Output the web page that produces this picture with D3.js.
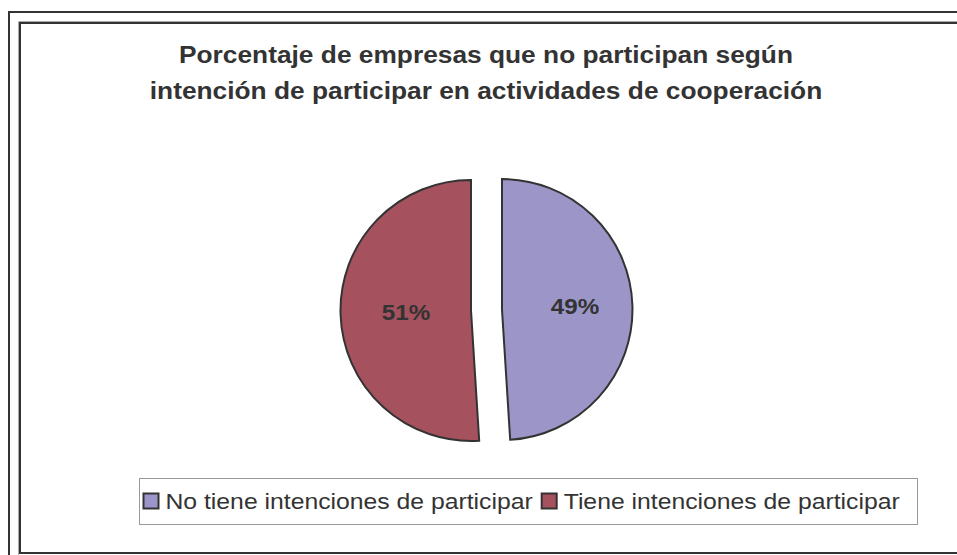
<!DOCTYPE html>
<html>
<head>
<meta charset="utf-8">
<script src="https://cdn.jsdelivr.net/npm/d3@7"></script>
<style>
  html, body { margin: 0; padding: 0; background: #fff; }
  svg { display: block; }
  text { font-family: "Liberation Sans", Arial, sans-serif; }
</style>
</head>
<body>
<svg id="chart" width="957" height="555"></svg>
<script>
const titleLines = ["Porcentaje de empresas que no participan según",
                    "intención de participar en actividades de cooperación"];
const categories = ["No tiene intenciones de participar", "Tiene intenciones de participar"];
const values = [49, 51];
const colors = ["#9c96c8", "#a5515e"];

const W = 957, H = 555;
const svg = d3.select("#chart");

// frames
svg.append("rect").attr("x", 9).attr("y", 12).attr("width", 1100).attr("height", 1100)
  .attr("fill", "none").attr("stroke", "#333").attr("stroke-width", 2);
svg.append("path").attr("d", "M18.5,560 V21.5 H960").attr("fill", "none")
  .attr("stroke", "#aaa").attr("stroke-width", 1);
svg.append("rect").attr("x", 20).attr("y", 23).attr("width", 1100).attr("height", 530)
  .attr("fill", "#fff").attr("stroke", "#333").attr("stroke-width", 2);

// title
const titleY = [63, 99];
const titleStretch = 1.12;
titleLines.forEach((t, i) => {
  svg.append("text")
    .attr("transform", `translate(486,${titleY[i]}) scale(${titleStretch},1)`)
    .attr("text-anchor", "middle")
    .attr("font-size", 23.5).attr("font-weight", "bold").attr("fill", "#333")
    .text(t);
});

// pie
const cx = 486.5, cy = 310, r = 130.5, explode = 15.5;
const pie = d3.pie().sort(null).value(d => d).startAngle(0).endAngle(2 * Math.PI);
const arcs = pie(values);
const arc = d3.arc().innerRadius(0).outerRadius(r);
const labelArc = d3.arc().innerRadius(69).outerRadius(69);

const g = svg.append("g").attr("transform", `translate(${cx},${cy})`);
const slice = g.selectAll("g.slice").data(arcs).join("g").attr("class", "slice")
  .attr("transform", d => {
    const a = (d.startAngle + d.endAngle) / 2;
    return `translate(${explode * Math.sin(a)},${-explode * Math.cos(a)})`;
  });
slice.append("path").attr("d", arc)
  .attr("fill", (d, i) => colors[i]).attr("stroke", "#333").attr("stroke-width", 2)
  .attr("stroke-linejoin", "miter");
slice.append("text")
  .attr("transform", d => {
    const [x, y] = labelArc.centroid(d);
    return `translate(${x + 4},${y + 7}) scale(1.1,1)`;
  })
  .attr("text-anchor", "middle").attr("font-size", 22).attr("font-weight", "bold")
  .attr("fill", "#333")
  .text(d => Math.round(d.value) + "%");

// legend
const lg = svg.append("g");
lg.append("rect").attr("x", 139.5).attr("y", 478.5).attr("width", 778).attr("height", 46)
  .attr("fill", "#fff").attr("stroke", "#999").attr("stroke-width", 1);
const legStretch = 1.1;
let lx = 143.5;
categories.forEach((c, i) => {
  lg.append("rect").attr("x", lx).attr("y", 493.5).attr("width", 15).attr("height", 15)
    .attr("fill", colors[i]).attr("stroke", "#333").attr("stroke-width", 2);
  const t = lg.append("text")
    .attr("transform", `translate(${lx + 22},509) scale(${legStretch},1)`)
    .attr("font-size", 22.5).attr("fill", "#333").text(c);
  const w = t.node().getComputedTextLength() * legStretch;
  lx = lx + 22 + w + 9;
});
</script>
</body>
</html>
